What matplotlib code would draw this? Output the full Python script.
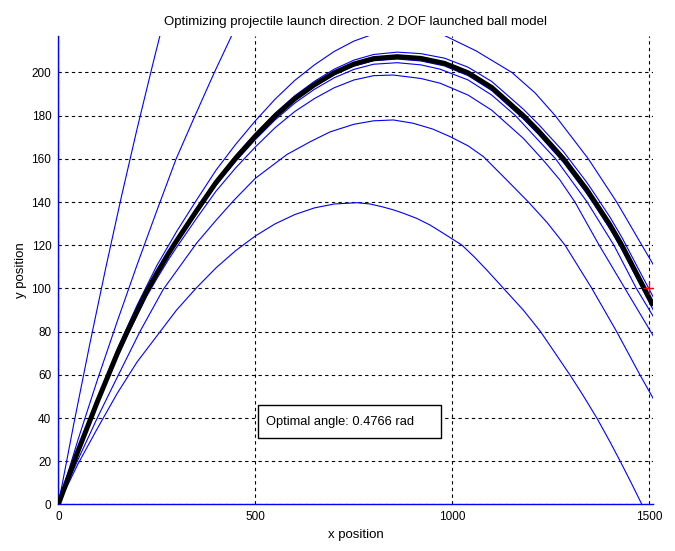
import matplotlib
matplotlib.use("Agg")
import matplotlib.pyplot as plt
from matplotlib.patches import Rectangle

plt.rcParams["font.family"] = ["Liberation Sans", "DejaVu Sans"]

# trajectories (x position, y position)
vert_x = [0, 0]
vert_y = [0, 230]

b1_x = [0, 40, 80, 120, 160, 200, 240, 262]
b1_y = [0, 38, 74.4, 109.2, 142.4, 174, 204, 220]

b2_x = [0, 50, 99, 150, 200, 250, 299, 347, 396, 445]
b2_y = [0, 30, 57.6, 85, 111, 136, 160, 180, 200, 219]

b3_x = [0, 50, 100, 150, 200, 250, 300, 351, 400, 450, 500, 550, 600, 650,
        700, 750, 800, 860, 920, 981, 1060, 1151, 1210, 1261, 1345, 1417,
        1481, 1510]
b3_y = [0, 25.5, 49.4, 72.1, 92.3, 110.6, 126.3, 141, 154.7, 166.7, 177.6,
        187.6, 196.3, 203.5, 209.7, 214.5, 217.8, 219.5, 219, 217, 210, 200,
        190.5, 180, 160, 140, 120, 111]

l139_x = [0, 50, 100, 150, 200, 250, 300, 350, 400, 450, 500, 550, 600, 650,
          700, 758, 791, 820, 850, 876, 910, 943, 980, 1024, 1055, 1087, 1130,
          1180, 1223, 1260, 1299, 1330, 1367, 1400, 1426, 1455, 1481]
l139_y = [0, 18.8, 35.5, 51.6, 66, 78, 90, 100.2, 109.5, 117.5, 124.3, 129.9,
          134.2, 137.3, 139.1, 139.7, 139.1, 137.9, 136.4, 134.8, 132.4, 129.4,
          125.2, 120.1, 114.7, 108.6, 100, 90, 80.2, 70.3, 59.8, 51, 39.9, 29,
          20, 9.6, 0]

l178_x = [0, 50, 100, 146, 207, 266, 351, 400, 444, 500, 580, 640, 690, 750,
          800, 850, 900, 950, 994, 1040, 1079, 1138, 1193, 1240, 1286, 1354,
          1417, 1476, 1510]
l178_y = [0, 20.8, 40.5, 57.6, 80, 99.5, 121, 131.5, 140.5, 151, 162, 168,
          172.5, 176, 177.6, 178, 176.5, 173.8, 170.3, 166, 161, 150.2, 140,
          130.6, 120, 100, 80, 60, 49]

# optimal launch (thick black) and the last bisection steps around it
opt_x = [0, 50, 100, 150, 175, 200, 224, 250, 279, 300, 351, 400, 450, 500,
         550, 600, 650, 700, 750, 800, 860, 920, 980, 1040, 1100, 1180, 1220,
         1282, 1340, 1362, 1400, 1430, 1487, 1510]
opt_y = [0, 24.8, 48, 70, 80, 89.5, 98.5, 107, 116, 122, 136, 149, 160.3,
         170.5, 179.8, 187.8, 194.3, 199.8, 203.9, 206.4, 207.3, 206.5, 204.2,
         199.8, 193, 180, 172.6, 160, 146, 140, 129.4, 120, 100, 92]
l209_y = [0, 24.9, 48.2, 70.4, 80.4, 90, 99, 107.6, 116.7, 122.7, 136.8, 150,
          161.4, 171.7, 181.1, 189.2, 195.9, 201.5, 205.7, 208.3, 209.4, 208.7,
          206.6, 202.4, 195.8, 183, 175.7, 163.3, 149.4, 143.5, 133, 123.7,
          103.9, 96]
l206_y = [0, 24.7, 47.9, 69.8, 79.8, 89.2, 98.2, 106.7, 115.6, 121.6, 135.5,
          148.5, 159.7, 169.9, 179.1, 187, 193.5, 198.9, 202.9, 205.4, 206.2,
          205.3, 203, 198.5, 191.6, 178.5, 171, 158.3, 144.2, 138.2, 127.5,
          118, 98, 90]

l204_x = [0, 50, 100, 150, 175, 200, 224, 250, 279, 300, 351, 400, 450, 500,
          550, 600, 650, 700, 750, 800, 860, 920, 969, 1040, 1100, 1160, 1262,
          1342, 1410, 1467, 1510]
l204_y = [0, 24.6, 47.7, 69.5, 79.4, 88.8, 97.8, 106.2, 115.1, 121, 134.8,
          147.7, 158.8, 168.9, 178, 185.8, 192.2, 197.5, 201.4, 203.8, 204.5,
          203.5, 201.5, 196.5, 189.5, 180, 160, 140, 120, 100, 87]

l199_x = [0, 50, 100, 150, 175, 200, 224, 250, 279, 300, 351, 400, 450, 500,
          550, 600, 650, 700, 750, 800, 850, 920, 969, 1040, 1100, 1180, 1230,
          1273, 1311, 1371, 1438, 1510]
l199_y = [0, 24.3, 47, 68.5, 78.3, 87.5, 96.3, 104.5, 113.2, 119, 132.5, 145,
          155.8, 165.5, 174.4, 181.9, 187.9, 192.9, 196.5, 198.5, 198.8, 197.2,
          195, 189.5, 182.5, 169.5, 159.5, 150.2, 140, 120.5, 100, 78]

target_x = [1500]
target_y = [100]
opt_angle = 0.4766

xticks = [0, 500, 1000, 1500]
yticks = list(range(0, 201, 20))

fig = plt.figure(figsize=(6.75, 5.51), dpi=100)
ax = fig.add_axes([0.0864, 0.0844, 0.8815, 0.8508])

blue = (0, 0, 1)
for xs, ys in [(vert_x, vert_y), (b1_x, b1_y), (b2_x, b2_y), (b3_x, b3_y),
               (l139_x, l139_y), (l178_x, l178_y), (l199_x, l199_y),
               (opt_x, l209_y), (l204_x, l204_y), (opt_x, l206_y)]:
    ax.plot(xs, ys, color=blue, lw=0.8, zorder=3)

ax.plot(opt_x, opt_y, color="black", lw=3.6, zorder=4, solid_capstyle="butt")
ax.plot(target_x, target_y, "+", color="red", ms=8, mew=1.0, zorder=5)

ax.set_xlim(0, 1510)
ax.set_ylim(0, 217)
ax.set_xticks(xticks)
ax.set_yticks(yticks)
ax.tick_params(length=0, labelsize=8.5, pad=5)
ax.grid(True, color="black", ls=(0, (3, 3)), lw=0.8)
ax.set_axisbelow(True)
for s in ["top", "right"]:
    ax.spines[s].set_visible(False)
for s in ["left", "bottom"]:
    ax.spines[s].set_color(blue)
    ax.spines[s].set_linewidth(1.0)
    ax.spines[s].set_zorder(3)

ax.set_xlabel("x position", fontsize=9.5, labelpad=4)
ax.set_ylabel("y position", fontsize=9.5, labelpad=3)
ax.set_title("Optimizing projectile launch direction. 2 DOF launched ball model",
             fontsize=9.5, pad=8)

ax.add_patch(Rectangle((507, 30.8), 464, 15.2, fc="white", ec="black", lw=1,
                       zorder=6))
ax.text(527, 38.4, "Optimal angle: %.4f rad" % opt_angle, fontsize=9.3,
        va="center", ha="left", zorder=7)

fig.savefig("out.png", dpi=100)
